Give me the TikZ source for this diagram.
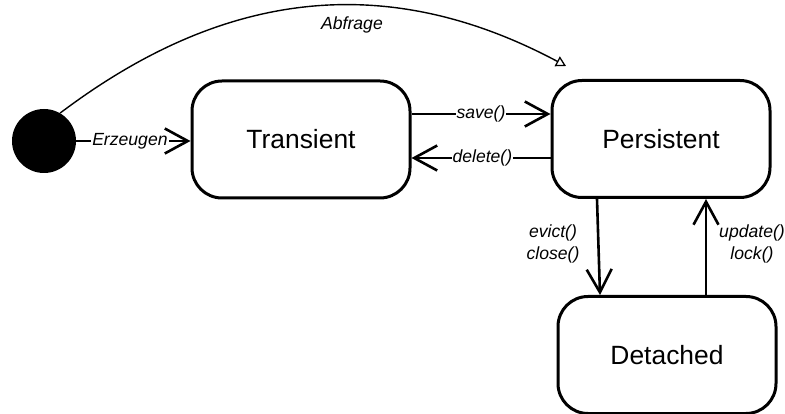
\documentclass[tikz,border=0pt]{standalone}
\usepackage{fontspec}
\setmainfont{Liberation Sans}
\usetikzlibrary{arrows.meta}

\tikzset{
  state/.style={draw, line width=3pt, rounded corners=30pt,
    minimum width=218pt, minimum height=117pt, inner sep=0pt,
    font=\fontsize{26.4}{30}\selectfont},
  trans/.style={line width=2.6pt,
    -{Straight Barb[length=23pt,width=25pt]}},
  lbl/.style={font=\fontsize{17.6}{22}\selectfont\itshape, inner sep=1pt},
  lblfill/.style={lbl, fill=white},
  query/.style={line width=1.4pt,
    -{Triangle[open,length=10pt,width=11pt,line width=1.3pt]}}
}

\begin{document}
\begin{tikzpicture}[x=1pt,y=-1pt]
  \useasboundingbox (0,0) rectangle (785,414);

  % initial pseudo-state
  \node (start) [circle, fill=black, minimum size=64pt, inner sep=0pt] at (44,141) {};

  % states
  \node (trans) [state] at (301,139.5) {Transient};
  \node (pers)  [state] at (661,139) {Persistent};
  \node (det)   [state] at (667,355) {Detached};

  % creation
  \draw[trans] (start.east) -- (start.east -| trans.west)
    node[lblfill, pos=0.47] {Erzeugen};

  % save / delete
  \draw[trans] ([yshift=25.5pt]trans.east) -- ([yshift=25pt]pers.west)
    node[lblfill, pos=0.5] {save()};
  \draw[trans] ([yshift=-19pt]pers.west) -- ([yshift=-18.5pt]trans.east)
    node[lblfill, pos=0.49] {delete()};

  % evict / close and update / lock
  \draw[trans] ([xshift=-64pt]pers.south) -- ([xshift=-67pt]det.north);
  \node[lbl, align=center] (evl) at (553,244) {evict()\\close()};
  \draw[trans] ([xshift=39pt]det.north) -- ([xshift=45pt]pers.south);
  \node[lbl, align=center] (upl) at (752,244) {update()\\lock()};

  % query arc
  \coordinate (qend) at (566,66);
  \draw[query] (start.60) .. controls (223,-10) and (386,-30) .. (qend);
  \node[lbl] (ql) at (352,25) {Abfrage};
\end{tikzpicture}
\end{document}
